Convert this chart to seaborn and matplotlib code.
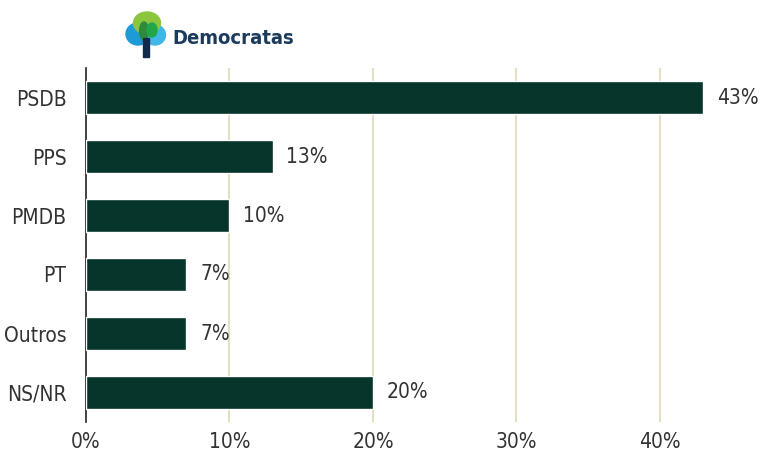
import matplotlib
matplotlib.use("Agg")
import matplotlib.pyplot as plt
import seaborn as sns
import pandas as pd
from matplotlib.patches import Ellipse, Rectangle

partidos = ["PSDB", "PPS", "PMDB", "PT", "Outros", "NS/NR"]
valores = [43, 13, 10, 7, 7, 20]
ticks = [0, 10, 20, 30, 40]
tick_labels = ["0%", "10%", "20%", "30%", "40%"]

data = pd.DataFrame({"partido": partidos, "valor": valores})

sns.set_theme(style="white")
plt.rcParams["font.family"] = ["DejaVu Sans"]
plt.rcParams["font.stretch"] = "condensed"

fig = plt.figure(figsize=(7.62, 4.57), dpi=100)
ax = fig.add_axes([86 / 762, 1 - 422 / 457, 660 / 762, 354 / 457])

sns.barplot(data=data, x="valor", y="partido", orient="h", color="#05352b",
            width=0.55, saturation=1, ax=ax, zorder=3)

for i, v in enumerate(valores):
    ax.text(v + 0.95, i, f"{v}%", va="center", ha="left", fontsize=15,
            color="#333333", clip_on=False)

ax.set_xlim(0, 46)
ax.set_ylim(5.5, -0.5)
ax.set_xticks(ticks)
ax.set_xticklabels(tick_labels, fontsize=15, color="#333333")
ax.tick_params(axis="y", labelsize=15, labelcolor="#333333", length=0, pad=14)
ax.tick_params(axis="x", length=0, pad=7)
ax.set_xlabel("")
ax.set_ylabel("")
for t in ticks[1:]:
    ax.axvline(t, color="#e3dec4", lw=1.5, zorder=1)
for s in ["top", "right", "bottom"]:
    ax.spines[s].set_visible(False)
ax.spines["left"].set_color("#222222")
ax.spines["left"].set_linewidth(1.2)

# logo (pixel coordinates)
lx = fig.add_axes([120 / 762, 1 - 60 / 457, 50 / 762, 52 / 457])
lx.set_xlim(120, 170)
lx.set_ylim(60, 8)
lx.axis("off")
lx.add_patch(Ellipse((138, 34), 24, 22, color="#1e9ad6"))
lx.add_patch(Ellipse((155, 35), 21, 20, color="#3fb8e8"))
lx.add_patch(Ellipse((147, 23), 27, 22, color="#8cc63f"))
lx.add_patch(Ellipse((144, 31), 9, 18, color="#2e8b3e"))
lx.add_patch(Ellipse((152, 30), 10, 14, color="#21a64a"))
lx.add_patch(Rectangle((143, 38), 6, 19, color="#13294b"))
fig.text(172 / 762, 1 - 38 / 457, "Democratas", fontsize=14.5, fontweight="bold",
         color="#1b3a5c", va="center", ha="left")

fig.savefig("out.png", dpi=100)
